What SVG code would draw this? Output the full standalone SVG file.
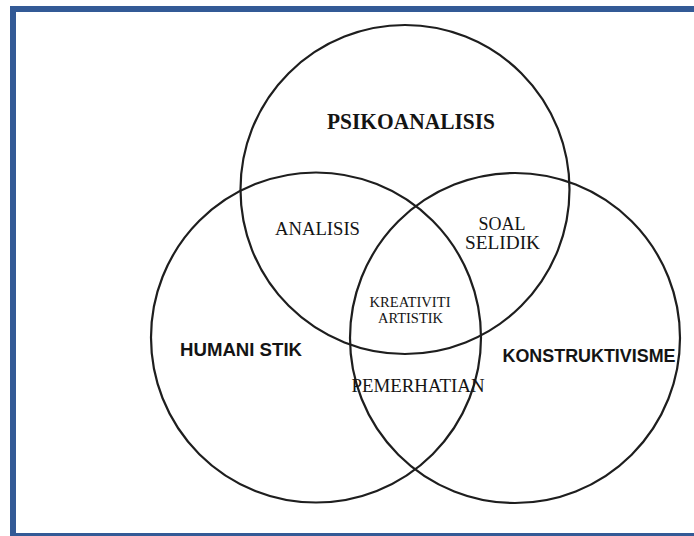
<svg xmlns="http://www.w3.org/2000/svg" width="694" height="536" viewBox="0 0 694 536">
  <style>
    .circle { fill: none; stroke: #1e1e1e; stroke-width: 2.2; }
    .serif { font-family: "Liberation Serif", "Times New Roman", serif; fill: #141414; text-anchor: middle; }
    .serifbold { font-family: "Liberation Serif", "Times New Roman", serif; font-weight: bold; fill: #141414; text-anchor: middle; }
    .sans { font-family: "Liberation Sans", Arial, sans-serif; font-weight: bold; fill: #141414; text-anchor: middle; }
  </style>
  <rect x="0" y="0" width="694" height="536" fill="#ffffff"/>
  <rect id="frame" x="13" y="9" width="700" height="527" fill="none" stroke="#335a96" stroke-width="6"/>
  <g id="connectors"></g>
  <g id="node-psikoanalisis">
    <circle class="circle" cx="405" cy="189.5" r="164.5"/>
    <text class="serifbold" x="411" y="129" font-size="23" textLength="168" lengthAdjust="spacingAndGlyphs">PSIKOANALISIS</text>
  </g>
  <g id="node-humanistik">
    <circle class="circle" cx="316" cy="337.5" r="165"/>
    <text class="sans" x="241" y="356" font-size="18" textLength="122" lengthAdjust="spacingAndGlyphs">HUMANI STIK</text>
  </g>
  <g id="node-konstruktivisme">
    <circle class="circle" cx="515" cy="338" r="165"/>
    <text class="sans" x="589" y="362" font-size="18.5" textLength="173" lengthAdjust="spacingAndGlyphs">KONSTRUKTIVISME</text>
  </g>
  <g id="node-analisis">
    <text class="serif" x="317.5" y="235" font-size="19" textLength="85" lengthAdjust="spacingAndGlyphs">ANALISIS</text>
  </g>
  <g id="node-soal-selidik">
    <text class="serif" x="502" y="230" font-size="19" textLength="47" lengthAdjust="spacingAndGlyphs">SOAL</text>
    <text class="serif" x="502.5" y="249" font-size="19" textLength="75" lengthAdjust="spacingAndGlyphs">SELIDIK</text>
  </g>
  <g id="node-kreativiti-artistik">
    <text class="serif" x="410" y="306.5" font-size="14.5" textLength="81" lengthAdjust="spacingAndGlyphs">KREATIVITI</text>
    <text class="serif" x="410.5" y="322.5" font-size="14.5" textLength="65" lengthAdjust="spacingAndGlyphs">ARTISTIK</text>
  </g>
  <g id="node-pemerhatian">
    <text class="serif" x="418" y="391.5" font-size="18.5" textLength="133" lengthAdjust="spacingAndGlyphs">PEMERHATIAN</text>
  </g>
</svg>
